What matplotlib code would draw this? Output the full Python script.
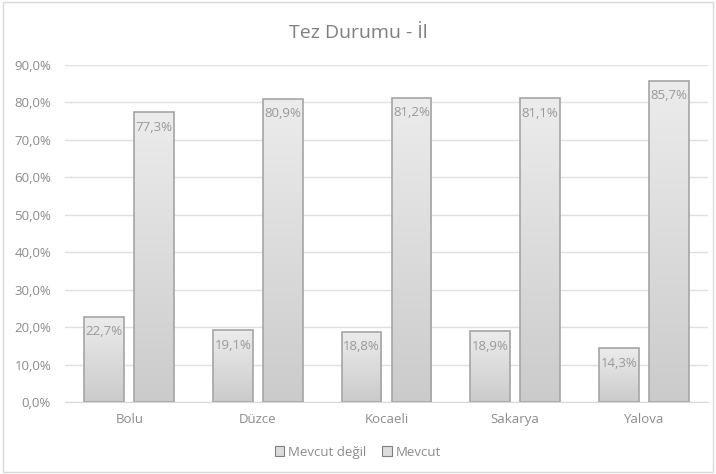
import numpy as np
import matplotlib
matplotlib.use("Agg")
import matplotlib.pyplot as plt
from matplotlib.patches import Rectangle
from matplotlib.colors import LinearSegmentedColormap

# Thesis status by province
provinces = ["Bolu", "Düzce", "Kocaeli", "Sakarya", "Yalova"]
series_names = ["Mevcut değil", "Mevcut"]
mevcut_degil = [22.7, 19.1, 18.8, 18.9, 14.3]
mevcut = [77.3, 80.9, 81.2, 81.1, 85.7]
yticks = np.arange(0, 91, 10)

plt.rcParams["font.family"] = ["Open Sans", "DejaVu Sans"]
txt_color = "#8c8c8c"
edge_color = "#a5a5a5"

fig = plt.figure(figsize=(7.16, 4.74), dpi=100)
ax = fig.add_axes([0.0908, 0.152, 0.898, 0.711])

# outer chart border
fig.patches.append(Rectangle((0.004, 0.004), 0.992, 0.992, transform=fig.transFigure,
                             fill=False, edgecolor="#d9d9d9", linewidth=1.0))

grad = LinearSegmentedColormap.from_list("g", ["#cbcbcb", "#ececec"])
gradient = np.linspace(0, 1, 256).reshape(-1, 1)

width = 0.31
offsets = [-0.194, 0.194]
x = np.arange(len(provinces))

for vals, off in zip([mevcut_degil, mevcut], offsets):
    bars = ax.bar(x + off, vals, width, facecolor="none", edgecolor=edge_color,
                  linewidth=1.2, zorder=3)
    for b, v in zip(bars, vals):
        x0 = b.get_x()
        im = ax.imshow(gradient, cmap=grad, aspect="auto", origin="lower",
                       extent=(x0, x0 + width, 0, v), zorder=2)
        im.set_clip_path(b)
        ax.annotate(f"{v:.1f}%".replace(".", ","), (b.get_x() + width / 2, v),
                    xytext=(0, -6), textcoords="offset points", ha="center", va="top",
                    fontsize=9.5, color="#999999", zorder=4)

ax.set_xlim(-0.5, len(provinces) - 0.5)
ax.set_ylim(0, 90)
ax.set_yticks(yticks)
ax.set_yticklabels([f"{t:.1f}%".replace(".", ",") for t in yticks])
ax.set_xticks(x)
ax.set_xticklabels(provinces)
ax.tick_params(axis="both", length=0, colors=txt_color, labelsize=9.5, pad=8)
ax.tick_params(axis="y", pad=10)
ax.yaxis.grid(True, color="#e0e0e0", linewidth=1)
ax.set_axisbelow(True)
for s in ["left", "right", "top"]:
    ax.spines[s].set_visible(False)
ax.spines["bottom"].set_color("#d9d9d9")

fig.text(0.5, 0.93, "Tez Durumu - İl", ha="center", va="center", fontsize=14, color="#7f7f7f")

handles = [Rectangle((0, 0), 1, 1, facecolor="#dcdcdc", edgecolor="#7f7f7f", linewidth=0.8)
           for _ in series_names]
fig.legend(handles, series_names, loc="center", bbox_to_anchor=(0.5, 0.046), ncol=2,
           frameon=False, fontsize=9.5, labelcolor=txt_color, handlelength=0.7,
           handleheight=0.7, handletextpad=0.3, columnspacing=1.2)

fig.savefig("out.png", dpi=100)
